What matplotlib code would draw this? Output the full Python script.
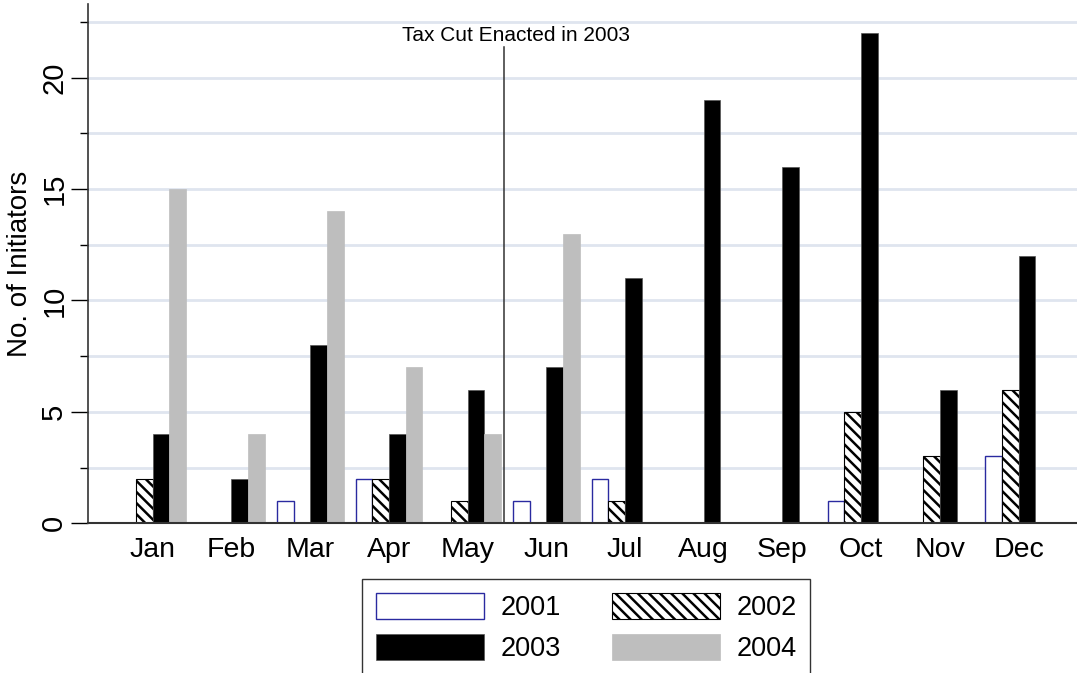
import numpy as np
import matplotlib
matplotlib.use("Agg")
import matplotlib.pyplot as plt
from matplotlib.ticker import MultipleLocator

plt.rcParams['font.family'] = ['Liberation Sans', 'DejaVu Sans']
plt.rcParams['hatch.linewidth'] = 1.8

months = ["Jan", "Feb", "Mar", "Apr", "May", "Jun",
          "Jul", "Aug", "Sep", "Oct", "Nov", "Dec"]
years = ["2001", "2002", "2003", "2004"]
y2001 = [0, 0, 1, 2, 0, 1, 2, 0, 0, 1, 0, 3]
y2002 = [2, 0, 0, 2, 1, 0, 1, 0, 0, 5, 3, 6]
y2003 = [4, 2, 8, 4, 6, 7, 11, 19, 16, 22, 6, 12]
y2004 = [15, 4, 14, 7, 4, 13, 0, 0, 0, 0, 0, 0]
tax_cut_pos = 4.46
tax_cut_label = "Tax Cut Enacted in 2003"

fig = plt.figure(figsize=(10.77, 6.73), dpi=100)
ax = fig.add_axes([87.7 / 1077, 1 - 523.3 / 673, 1 - 87.7 / 1077, (523.3 - 4) / 673])

x = np.arange(len(months))
w = 0.212
b1 = ax.bar(x - 1.5 * w, y2001, w, color="white", edgecolor="#2a2aa0", linewidth=1.0)
b2 = ax.bar(x - 0.5 * w, y2002, w, color="white", edgecolor="black", linewidth=0.8, hatch="\\\\\\")
b3 = ax.bar(x + 0.5 * w, y2003, w, color="black", edgecolor="#555555", linewidth=0.5)
b4 = ax.bar(x + 1.5 * w, y2004, w, color="#bebebe", edgecolor="#bebebe", linewidth=0.5)

ax.set_xlim(-0.827, 11.743)
ax.set_ylim(0, 23.3)

# grid every 2.5
ax.yaxis.set_major_locator(MultipleLocator(5))
ax.yaxis.set_minor_locator(MultipleLocator(2.5))
ax.set_axisbelow(True)
ax.yaxis.grid(True, which="both", color="#dfe5ef", linewidth=2)

ax.set_xticks(x)
ax.set_xticklabels(months, fontsize=20.5)
ax.tick_params(axis="x", length=0, pad=10)
ax.tick_params(axis="y", which="major", length=12, width=1, pad=2, labelsize=21, labelrotation=90)
ax.tick_params(axis="y", which="minor", length=6, width=1)
for lab in ax.get_yticklabels():
    lab.set_va("center")
ax.set_ylabel("No. of Initiators", fontsize=20, labelpad=5)

for s in ["top", "right"]:
    ax.spines[s].set_visible(False)
ax.spines["left"].set_color("#333333")
ax.spines["bottom"].set_color("#333333")
ax.spines["left"].set_linewidth(1.2)
ax.spines["bottom"].set_linewidth(1.5)

# tax cut marker
ax.plot([tax_cut_pos, tax_cut_pos], [0, 21.38], color="#333333", linewidth=1.1)
ax.text(4.615, 21.9, tax_cut_label, fontsize=15, ha="center", va="center")

handles = [b1, b3, b2, b4]
labels = [years[0], years[2], years[1], years[3]]
leg = fig.legend(handles, labels, ncol=2, loc="upper left",
                 bbox_to_anchor=(362 / 1077, 1 - 579 / 673), fontsize=19.5,
                 handlelength=4.0, handleheight=1.1, handletextpad=0.6,
                 columnspacing=1.9, labelspacing=0.5, borderpad=0.5,
                 borderaxespad=0, fancybox=False, frameon=True)
leg.get_frame().set_edgecolor("black")
leg.get_frame().set_linewidth(1)

fig.savefig("out.png", dpi=100)
